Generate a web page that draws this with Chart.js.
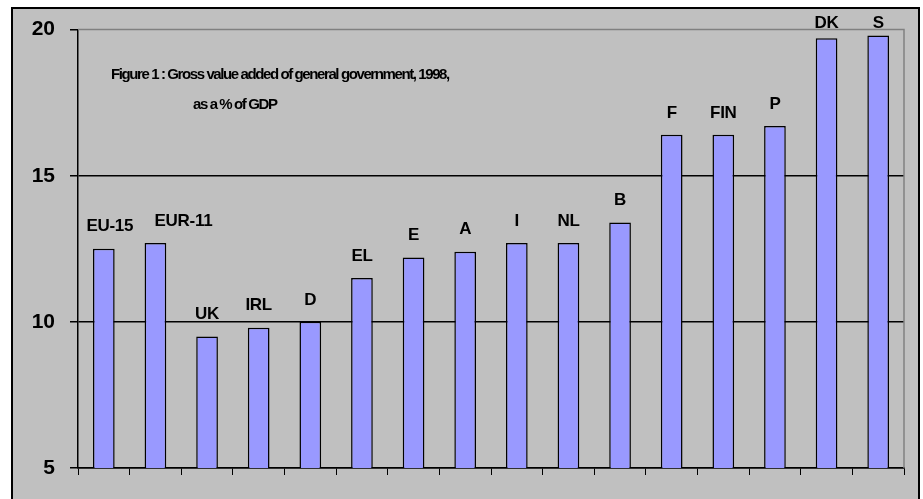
<!DOCTYPE html>
<html>
<head>
<meta charset="utf-8">
<script src="https://cdn.jsdelivr.net/npm/chart.js@4.4.1/dist/chart.umd.min.js"></script>
<style>
  html, body { margin: 0; padding: 0; background: #fff; }
  #box {
    position: absolute; left: 11px; top: 7px;
    width: 905px; height: 500px;
    border: 2px solid #000; background: #c0c0c0;
  }
  canvas { display: block; margin-top: -7px; }
</style>
</head>
<body>
<div id="box"><canvas id="myChart" width="905" height="499"></canvas></div>
<script>
const countries = ['EU-15', 'EUR-11', 'UK', 'IRL', 'D', 'EL', 'E', 'A', 'I', 'NL', 'B', 'F', 'FIN', 'P', 'DK', 'S'];
const gvaShare = [12.5, 12.7, 9.5, 9.8, 10.0, 11.5, 12.2, 12.4, 12.7, 12.7, 13.4, 16.4, 16.4, 16.7, 19.7, 19.8];
const yTicks = [5, 10, 15, 20];
const titleLines = ['Figure 1 : Gross value added of general government, 1998,', 'as a % of GDP'];

// small nudges for labels that sit off-centre in the original
const labelNudge = { 'EU-15': 6, 'EUR-11': 28 };

const overlay = {
    id: 'overlay',
    beforeDatasetsDraw(chart) {
        const a = chart.chartArea;
        const ctx = chart.ctx;
        ctx.save();
        ctx.strokeStyle = '#808080';
        ctx.lineWidth = 1.5;
        ctx.beginPath();
        ctx.moveTo(a.left, a.top);
        ctx.lineTo(a.right, a.top);
        ctx.lineTo(a.right, a.bottom);
        ctx.stroke();
        ctx.restore();
    },
    afterDatasetsDraw(chart) {
        const a = chart.chartArea;
        const ctx = chart.ctx;
        const bars = chart.getDatasetMeta(0).data;
        ctx.save();
        ctx.fillStyle = '#000';
        ctx.textAlign = 'center';
        ctx.textBaseline = 'middle';
        ctx.font = 'bold 17px "Liberation Sans", Arial, sans-serif';
        ctx.letterSpacing = '-0.3px';
        bars.forEach((bar, i) => {
            const name = countries[i];
            const y = Math.max(bar.y - 22, a.top - 6);
            ctx.fillText(name, bar.x + (labelNudge[name] || 0), y);
        });

        ctx.textAlign = 'left';
        ctx.font = 'bold 15px "Liberation Sans", Arial, sans-serif';
        ctx.letterSpacing = '-1.4px';
        ctx.fillText(titleLines[0], a.left + 33, a.top + 45);
        ctx.fillText(titleLines[1], a.left + 115, a.top + 75);
        ctx.restore();
    }
};

new Chart(document.getElementById('myChart'), {
    type: 'bar',
    data: {
        labels: countries,
        datasets: [{
            data: gvaShare,
            backgroundColor: '#9999ff',
            borderColor: '#000',
            borderWidth: 1.5,
            borderSkipped: 'bottom',
            categoryPercentage: 1,
            barPercentage: 0.42
        }]
    },
    options: {
        responsive: false,
        animation: false,
        layout: { padding: { top: 13, right: 14, left: 0, bottom: 0 } },
        plugins: { legend: { display: false }, tooltip: { enabled: false } },
        scales: {
            x: {
                ticks: { display: false },
                grid: { drawOnChartArea: false, drawTicks: true, tickLength: 7, color: '#000', lineWidth: 1 },
                border: { color: '#000', width: 1.5 },
                afterFit(scale) { scale.height = 33; }
            },
            y: {
                min: 5,
                max: 20,
                afterBuildTicks(scale) { scale.ticks = yTicks.map(v => ({ value: v })); },
                ticks: {
                    color: '#000',
                    padding: 15,
                    font: { family: '"Liberation Sans", Arial, sans-serif', size: 21, weight: 'bold' }
                },
                grid: {
                    color: ctx => ctx.tick && ctx.tick.value === 20 ? 'rgba(0,0,0,0)' : '#000',
                    tickColor: '#000',
                    tickLength: 8,
                    lineWidth: 1.5
                },
                border: { color: '#000', width: 1.5 },
                afterFit(scale) { scale.width = 65; }
            }
        }
    },
    plugins: [overlay]
});
</script>
</body>
</html>
